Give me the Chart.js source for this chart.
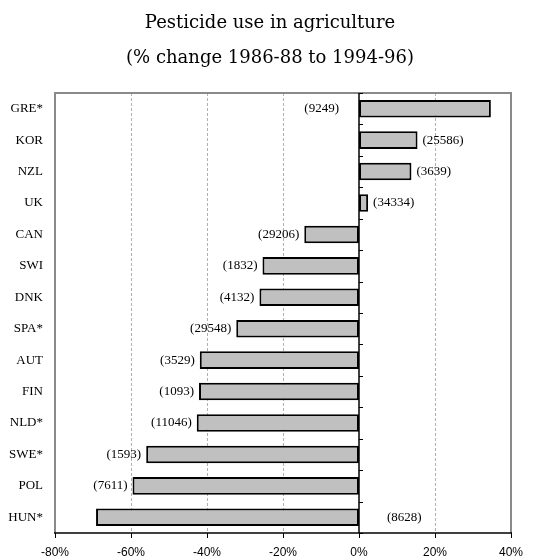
<!DOCTYPE html>
<html>
<head>
<meta charset="utf-8">
<script src="https://cdn.jsdelivr.net/npm/chart.js@4/dist/chart.umd.min.js"></script>
<style>
  html, body { margin: 0; padding: 0; background: #ffffff; }
  #wrap { width: 540px; height: 558px; }
</style>
</head>
<body>
<div id="wrap"><canvas id="chart" width="540" height="558"></canvas></div>
<script>
// Countries, ordered top to bottom
const countries = ['GRE*', 'KOR', 'NZL', 'UK', 'CAN', 'SWI', 'DNK', 'SPA*', 'AUT', 'FIN', 'NLD*', 'SWE*', 'POL', 'HUN*'];
// Change in pesticide use, % (1986-88 to 1994-96)
const pctChange = [34.7, 15.4, 13.8, 2.4, -14.4, -25.4, -26.2, -32.3, -41.9, -42.1, -42.7, -56.0, -59.6, -69.2];
// Use in 1994-96, tonnes of active ingredient (shown in brackets)
const tonnes = [9249, 25586, 3639, 34334, 29206, 1832, 4132, 29548, 3529, 1093, 11046, 1593, 7611, 8628];
// Horizontal axis ticks, %
const xTicks = [-80, -60, -40, -20, 0, 20, 40];

const SERIF = '"Liberation Serif", "Times New Roman", serif';
const TITLE_SERIF = '"DejaVu Serif", serif';
const SANS = '"Liberation Sans", Arial, sans-serif';

// Grid lines, plot frame, zero line and bottom axis
const framePlugin = {
  id: 'frame',
  beforeDatasetsDraw(chart) {
    const { ctx, chartArea: a, scales: { x } } = chart;
    ctx.save();
    // dashed vertical grid lines
    ctx.strokeStyle = '#b0b0b0';
    ctx.lineWidth = 1;
    ctx.setLineDash([3, 2]);
    xTicks.forEach(v => {
      if (v === 0 || v === xTicks[0] || v === xTicks[xTicks.length - 1]) return;
      const px = Math.round(x.getPixelForValue(v)) + 0.5;
      ctx.beginPath();
      ctx.moveTo(px, a.top);
      ctx.lineTo(px, a.bottom);
      ctx.stroke();
    });
    ctx.setLineDash([]);
    // grey frame: left, top, right
    ctx.strokeStyle = '#8a8a8a';
    ctx.lineWidth = 2;
    ctx.beginPath();
    ctx.moveTo(a.left, a.bottom);
    ctx.lineTo(a.left, a.top);
    ctx.lineTo(a.right, a.top);
    ctx.lineTo(a.right, a.bottom);
    ctx.stroke();
    ctx.restore();
  },
  afterDatasetsDraw(chart) {
    const { ctx, chartArea: a, scales: { x, y } } = chart;
    ctx.save();
    ctx.strokeStyle = '#000000';
    // zero line with small category ticks
    const x0 = x.getPixelForValue(0);
    ctx.lineWidth = 1.5;
    ctx.beginPath();
    ctx.moveTo(x0, a.top);
    ctx.lineTo(x0, a.bottom);
    ctx.stroke();
    ctx.lineWidth = 1;
    for (let i = 0; i <= countries.length; i++) {
      const py = Math.round(y.getPixelForValue(i - 0.5)) + 0.5;
      ctx.beginPath();
      ctx.moveTo(x0, py);
      ctx.lineTo(x0 + 4, py);
      ctx.stroke();
    }
    // bottom axis with downward ticks
    ctx.lineWidth = 1.5;
    ctx.beginPath();
    ctx.moveTo(a.left - 1, a.bottom);
    ctx.lineTo(a.right + 1, a.bottom);
    ctx.stroke();
    ctx.lineWidth = 1;
    xTicks.forEach(v => {
      const px = Math.round(x.getPixelForValue(v)) + 0.5;
      ctx.beginPath();
      ctx.moveTo(px, a.bottom);
      ctx.lineTo(px, a.bottom + 5);
      ctx.stroke();
    });
    ctx.restore();
  }
};

// Bracketed tonnage beside each bar; moved across the zero line when it would not fit
const valueLabelPlugin = {
  id: 'valueLabels',
  afterDatasetsDraw(chart) {
    const { ctx, chartArea: a, scales: { x } } = chart;
    const meta = chart.getDatasetMeta(0);
    const x0 = x.getPixelForValue(0);
    ctx.save();
    ctx.font = '13px ' + SERIF;
    ctx.fillStyle = '#000000';
    ctx.textBaseline = 'middle';
    meta.data.forEach((bar, i) => {
      const text = '(' + tonnes[i] + ')';
      const w = ctx.measureText(text).width;
      const gap = 5;
      if (pctChange[i] >= 0) {
        if (bar.x + gap + w <= a.right - 6) {
          ctx.textAlign = 'left';
          ctx.fillText(text, bar.x + gap, bar.y);
        } else {
          ctx.textAlign = 'right';
          ctx.fillText(text, x0 - 20, bar.y);
        }
      } else {
        if (bar.x - gap - w >= a.left + 8) {
          ctx.textAlign = 'right';
          ctx.fillText(text, bar.x - gap, bar.y);
        } else {
          ctx.textAlign = 'left';
          ctx.fillText(text, x0 + 28, bar.y);
        }
      }
    });
    ctx.restore();
  }
};

new Chart(document.getElementById('chart'), {
  type: 'bar',
  data: {
    labels: countries,
    datasets: [{
      data: pctChange,
      backgroundColor: '#c0c0c0',
      borderColor: '#000000',
      borderWidth: 2,
      borderSkipped: false,
      barPercentage: 0.56,
      categoryPercentage: 1.0
    }]
  },
  options: {
    indexAxis: 'y',
    responsive: false,
    devicePixelRatio: 1,
    animation: false,
    layout: { padding: 0 },
    plugins: {
      legend: { display: false },
      tooltip: { enabled: false },
      title: {
        display: true,
        text: ['Pesticide use in agriculture', '(% change 1986-88 to 1994-96)'],
        color: '#000000',
        font: { family: TITLE_SERIF, size: 18, weight: 'normal', lineHeight: 35 / 18 },
        padding: { top: 6, bottom: 17 }
      }
    },
    scales: {
      x: {
        type: 'linear',
        position: 'bottom',
        min: -80,
        max: 40,
        afterBuildTicks(scale) { scale.ticks = xTicks.map(v => ({ value: v })); },
        afterFit(scale) { scale.height = 25; scale.paddingLeft = 0; scale.paddingRight = 0; },
        grid: { display: false, drawTicks: false },
        border: { display: false },
        ticks: {
          padding: 12,
          color: '#000000',
          font: { family: SANS, size: 12 },
          maxRotation: 0,
          autoSkip: false,
          callback: v => v + '%'
        }
      },
      y: {
        type: 'category',
        afterFit(scale) { scale.width = 55; scale.paddingTop = 0; scale.paddingBottom = 0; },
        grid: { display: false, drawTicks: false },
        border: { display: false },
        ticks: {
          padding: 12,
          color: '#000000',
          font: { family: SERIF, size: 13 }
        }
      },
      // empty right-hand margin beside the plot
      yRight: {
        type: 'category',
        position: 'right',
        afterFit(scale) { scale.width = 29; scale.paddingTop = 0; scale.paddingBottom = 0; },
        grid: { display: false, drawTicks: false },
        border: { display: false },
        ticks: { display: false }
      }
    }
  },
  plugins: [framePlugin, valueLabelPlugin]
});
</script>
</body>
</html>
